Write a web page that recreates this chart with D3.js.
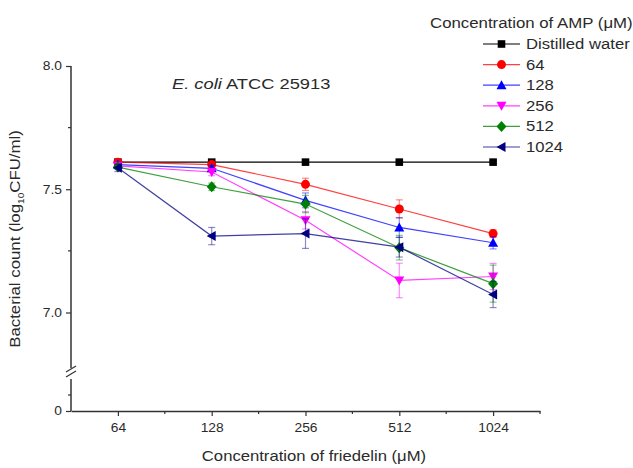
<!DOCTYPE html>
<html>
<head>
<meta charset="utf-8">
<script src="https://cdn.jsdelivr.net/npm/d3@7"></script>
<style>
html,body{margin:0;padding:0;background:#fff;}
svg{display:block;font-family:"Liberation Sans",Arial,sans-serif;}
</style>
</head>
<body>
<svg id="chart" width="633" height="468"></svg>
<script>
// ---- data ----
const categories = ["64", "128", "256", "512", "1024"];
const seriesNames = ["Distilled water", "64", "128", "256", "512", "1024"];
const waterValues = [7.61, 7.61, 7.61, 7.61, 7.61];
const amp64Values = [7.61, 7.60, 7.52, 7.42, 7.32];
const amp128Values = [7.60, 7.585, 7.455, 7.345, 7.283];
const amp256Values = [7.595, 7.57, 7.374, 7.13, 7.146];
const amp512Values = [7.59, 7.51, 7.44, 7.263, 7.117];
const amp1024Values = [7.587, 7.31, 7.32, 7.265, 7.073];
const waterErr = [0.01, 0.008, 0.005, 0.005, 0.005];
const amp64Err = [0.01, 0.01, 0.025, 0.037, 0.016];
const amp128Err = [0.01, 0.012, 0.03, 0.04, 0.025];
const amp256Err = [0.01, 0.015, 0.035, 0.07, 0.053];
const amp512Err = [0.01, 0.015, 0.035, 0.05, 0.075];
const amp1024Err = [0.015, 0.035, 0.06, 0.04, 0.053];
const yMajorTicks = [7.0, 7.5, 8.0];
const yMinorTicks = [7.25, 7.75];

const seriesValues = [waterValues, amp64Values, amp128Values, amp256Values, amp512Values, amp1024Values];
const seriesErrs = [waterErr, amp64Err, amp128Err, amp256Err, amp512Err, amp1024Err];
const colors = ["#000000", "#ff0000", "#0000ff", "#ff00ff", "#008000", "#000080"];
const symbols = ["square", "circle", "up", "down", "diamond", "left"];

const svg = d3.select("#chart");
const axisColor = "#333";
const textColor = "#2a2a2a";

// stretch text horizontally to mimic the wider rendering of the original
function widen(sel, factor) {
  sel.each(function () {
    const w = this.getComputedTextLength();
    d3.select(this).attr("textLength", w * factor).attr("lengthAdjust", "spacingAndGlyphs");
  });
}

const x = d3.scaleLinear().domain([-0.5, 4.5]).range([71, 540]);
const y = d3.scaleLinear().domain([7, 8]).range([312.5, 66]);
const yLow = d3.scaleLinear().domain([0, 1]).range([411, 379]);

function symbolPath(type, cx, cy) {
  const p = d3.path();
  if (type === "square") { p.rect(cx - 3.8, cy - 3.8, 7.6, 7.6); }
  else if (type === "circle") { p.arc(cx, cy, 4.5, 0, 2 * Math.PI); }
  else if (type === "up") { p.moveTo(cx, cy - 5); p.lineTo(cx + 5, cy + 4); p.lineTo(cx - 5, cy + 4); p.closePath(); }
  else if (type === "down") { p.moveTo(cx, cy + 5); p.lineTo(cx + 5, cy - 4); p.lineTo(cx - 5, cy - 4); p.closePath(); }
  else if (type === "diamond") { p.moveTo(cx, cy - 5.5); p.lineTo(cx + 5, cy); p.lineTo(cx, cy + 5.5); p.lineTo(cx - 5, cy); p.closePath(); }
  else if (type === "left") { p.moveTo(cx - 5, cy); p.lineTo(cx + 4, cy - 5); p.lineTo(cx + 4, cy + 5); p.closePath(); }
  return p.toString();
}

// ---- Y axis (upper segment) ----
const yAxisG = svg.append("g").attr("transform", `translate(${x.range()[0]},0)`);
yAxisG.call(d3.axisLeft(y).tickValues(yMajorTicks).tickFormat(d3.format(".1f")).tickSize(5).tickSizeOuter(0).tickPadding(4));
yAxisG.select(".domain").remove();
yAxisG.append("line").attr("x1", 0).attr("x2", 0).attr("y1", y(8)).attr("y2", y(6.775))
  .attr("stroke", axisColor).attr("stroke-width", 1.5);
yAxisG.selectAll(".minor").data(yMinorTicks).join("line").attr("class", "minor")
  .attr("x1", -3).attr("x2", 0).attr("y1", d => y(d)).attr("y2", d => y(d))
  .attr("stroke", axisColor).attr("stroke-width", 1.2);
// lower segment
const yLowG = svg.append("g").attr("transform", `translate(${x.range()[0]},0)`);
yLowG.call(d3.axisLeft(yLow).tickValues([0]).tickFormat(d3.format("d")).tickSize(5).tickSizeOuter(0).tickPadding(4));
yLowG.select(".domain").remove();
yLowG.append("line").attr("x1", 0).attr("x2", 0).attr("y1", yLow(0)).attr("y2", yLow(1.0))
  .attr("stroke", axisColor).attr("stroke-width", 1.5);
yLowG.append("line").attr("x1", -3).attr("x2", 0).attr("y1", yLow(0.5)).attr("y2", yLow(0.5))
  .attr("stroke", axisColor).attr("stroke-width", 1.2);
// break marks
[0, 5].forEach(o => {
  yAxisG.append("line").attr("x1", -5).attr("x2", 5)
    .attr("y1", y(6.775) + 4 + o).attr("y2", y(6.775) - 2 + o)
    .attr("stroke", axisColor).attr("stroke-width", 1.2);
});

// ---- X axis ----
const xAxisG = svg.append("g").attr("transform", `translate(0,${yLow(0)})`);
xAxisG.call(d3.axisBottom(x).tickValues(d3.range(categories.length)).tickFormat(i => categories[i]).tickSize(5).tickSizeOuter(0).tickPadding(7));
xAxisG.select(".domain").attr("stroke", axisColor).attr("stroke-width", 1.5);
xAxisG.selectAll(".minor").data([0.5, 1.5, 2.5, 3.5, 4.5]).join("line").attr("class", "minor")
  .attr("x1", d => x(d)).attr("x2", d => x(d)).attr("y1", 0).attr("y2", 3)
  .attr("stroke", axisColor).attr("stroke-width", 1.2);

svg.selectAll("g .tick text").attr("font-size", 12).attr("fill", textColor);
svg.selectAll("g .tick line").attr("stroke", axisColor).attr("stroke-width", 1.2);
widen(svg.selectAll("g .tick text"), 1.15);

// ---- axis titles ----
const xt = svg.append("text").attr("x", 314).attr("y", 461).attr("text-anchor", "middle")
  .attr("font-size", 15).attr("fill", textColor).text("Concentration of friedelin (\u03bcM)");
widen(xt, 1.11);
const yt = svg.append("text").attr("transform", "translate(20,239) rotate(-90)")
  .attr("text-anchor", "middle").attr("font-size", 15).attr("fill", textColor);
yt.append("tspan").text("Bacterial count (log");
yt.append("tspan").attr("font-size", 9).attr("dy", 4).text("10");
yt.append("tspan").attr("dy", -4).text("CFU/ml)");
widen(yt, 1.12);

// ---- plot title ----
const tt = svg.append("text").attr("x", 172).attr("y", 89).attr("font-size", 15).attr("fill", textColor);
tt.append("tspan").attr("font-style", "italic").text("E. coli");
tt.append("tspan").text(" ATCC 25913");
widen(tt, 1.22);

// ---- series ----
const line = d3.line().x((d, i) => x(i)).y(d => y(d));
seriesValues.forEach((vals, s) => {
  svg.append("path").datum(vals).attr("d", line).attr("fill", "none")
    .attr("stroke", colors[s]).attr("stroke-width", 1.2).attr("stroke-opacity", s === 0 ? 1 : 0.75);
});
seriesValues.forEach((vals, s) => {
  const g = svg.append("g");
  vals.forEach((v, i) => {
    const e = seriesErrs[s][i];
    const cx = x(i);
    g.append("line").attr("x1", cx).attr("x2", cx).attr("y1", y(v - e)).attr("y2", y(v + e))
      .attr("stroke", colors[s]).attr("stroke-opacity", 0.45).attr("stroke-width", 1.2);
    [v - e, v + e].forEach(t => g.append("line").attr("x1", cx - 3.5).attr("x2", cx + 3.5)
      .attr("y1", y(t)).attr("y2", y(t)).attr("stroke", colors[s]).attr("stroke-opacity", 0.45).attr("stroke-width", 1.2));
  });
  g.selectAll("path").data(vals).join("path")
    .attr("d", (v, i) => symbolPath(symbols[s], x(i), y(v))).attr("fill", colors[s]);
});

// ---- legend ----
const lt = svg.append("text").attr("x", 430).attr("y", 28).attr("font-size", 14).attr("fill", textColor)
  .text("Concentration of AMP (\u03bcM)");
widen(lt, 1.2);
const legY = d3.scaleLinear().domain([0, 5]).range([44, 147]);
seriesNames.forEach((n, s) => {
  const ly = legY(s);
  svg.append("line").attr("x1", 483).attr("x2", 520).attr("y1", ly).attr("y2", ly)
    .attr("stroke", colors[s]).attr("stroke-width", 1.2).attr("stroke-opacity", s === 0 ? 1 : 0.75);
  svg.append("path").attr("d", symbolPath(symbols[s], 501.5, ly)).attr("fill", colors[s]);
  const t = svg.append("text").attr("x", 526).attr("y", ly + 5).attr("font-size", 14).attr("fill", textColor).text(n);
  widen(t, 1.19);
});
</script>
</body>
</html>
